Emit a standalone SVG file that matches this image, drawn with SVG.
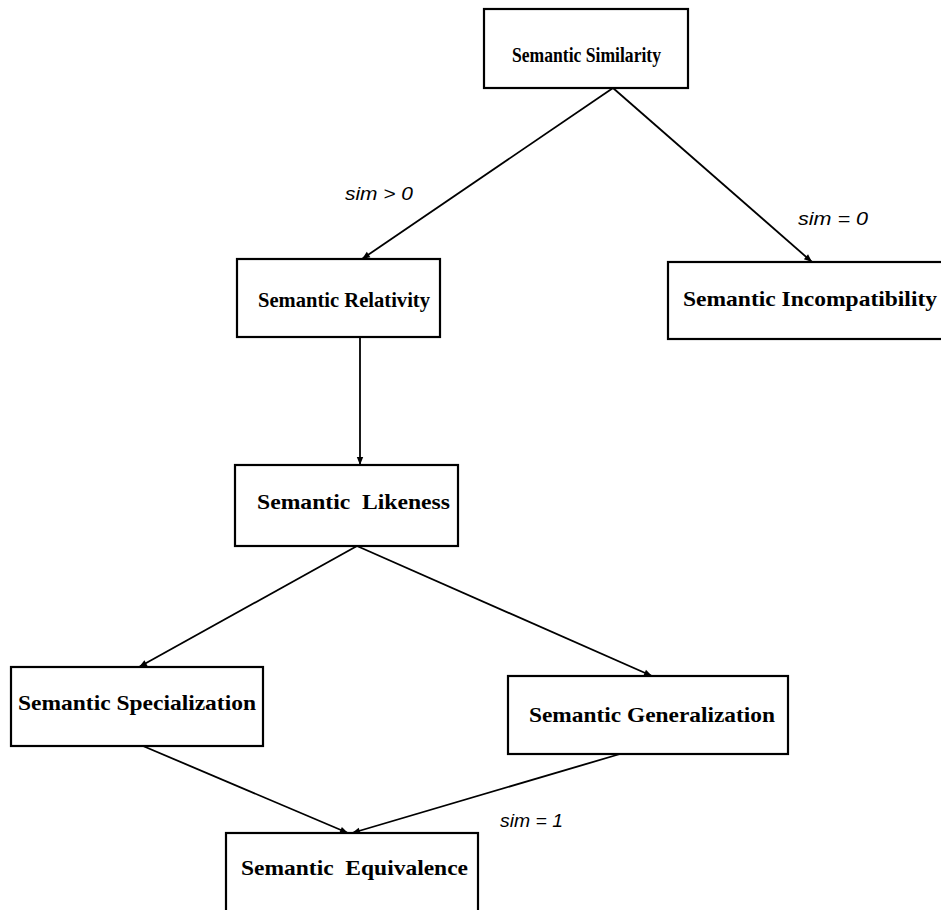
<svg xmlns="http://www.w3.org/2000/svg" width="941" height="910" viewBox="0 0 941 910">
<style>
.box{fill:#fff;stroke:#000;stroke-width:2.2}
.t{font-family:"Liberation Serif",serif;font-weight:bold;font-size:21px;fill:#000;white-space:pre}
.l{font-family:"Liberation Sans",sans-serif;font-style:italic;font-size:18px;fill:#000}
.e{fill:none;stroke:#000;stroke-width:1.8;marker-end:url(#ah)}
</style>
<defs>
<marker id="ah" viewBox="0 0 10 10" refX="10" refY="5" markerWidth="11" markerHeight="8" markerUnits="userSpaceOnUse" orient="auto">
<path d="M0,1 L10,5 L0,9 z" fill="#000"/>
</marker>
</defs>
<rect width="941" height="910" fill="#fff"/>
<g id="connectors">
<line class="e" x1="613" y1="88" x2="362" y2="259"/>
<line class="e" x1="613" y1="88" x2="812" y2="262"/>
<line class="e" x1="360" y1="337" x2="360" y2="465"/>
<line class="e" x1="357" y1="546" x2="139" y2="667"/>
<line class="e" x1="357" y1="546" x2="652" y2="676"/>
<line class="e" x1="143" y1="746" x2="348" y2="833"/>
<line class="e" x1="620" y1="754" x2="352" y2="833"/>
</g>
<g id="labels">
<text class="l" x="345" y="200" textLength="68" lengthAdjust="spacingAndGlyphs">sim &gt; 0</text>
<text class="l" x="798" y="225" textLength="70" lengthAdjust="spacingAndGlyphs">sim = 0</text>
<text class="l" x="500" y="827" textLength="63" lengthAdjust="spacingAndGlyphs">sim = 1</text>
</g>
<g id="n1">
<rect class="box" x="484" y="9" width="204" height="79"/>
<text class="t" x="512" y="62" textLength="149" lengthAdjust="spacingAndGlyphs">Semantic Similarity</text>
</g>
<g id="n2">
<rect class="box" x="237" y="259" width="203" height="78"/>
<text class="t" x="258" y="307" textLength="172" lengthAdjust="spacingAndGlyphs">Semantic Relativity</text>
</g>
<g id="n3">
<rect class="box" x="668" y="262" width="280" height="77"/>
<text class="t" x="683" y="306" textLength="254" lengthAdjust="spacingAndGlyphs">Semantic Incompatibility</text>
</g>
<g id="n4">
<rect class="box" x="235" y="465" width="223" height="81"/>
<text class="t" x="257" y="509" textLength="193" lengthAdjust="spacingAndGlyphs">Semantic  Likeness</text>
</g>
<g id="n5">
<rect class="box" x="11" y="667" width="252" height="79"/>
<text class="t" x="18" y="710" textLength="238" lengthAdjust="spacingAndGlyphs">Semantic Specialization</text>
</g>
<g id="n6">
<rect class="box" x="508" y="676" width="280" height="78"/>
<text class="t" x="529" y="722" textLength="246" lengthAdjust="spacingAndGlyphs">Semantic Generalization</text>
</g>
<g id="n7">
<rect class="box" x="226" y="833" width="252" height="90"/>
<text class="t" x="241" y="875" textLength="227" lengthAdjust="spacingAndGlyphs">Semantic  Equivalence</text>
</g>
</svg>
